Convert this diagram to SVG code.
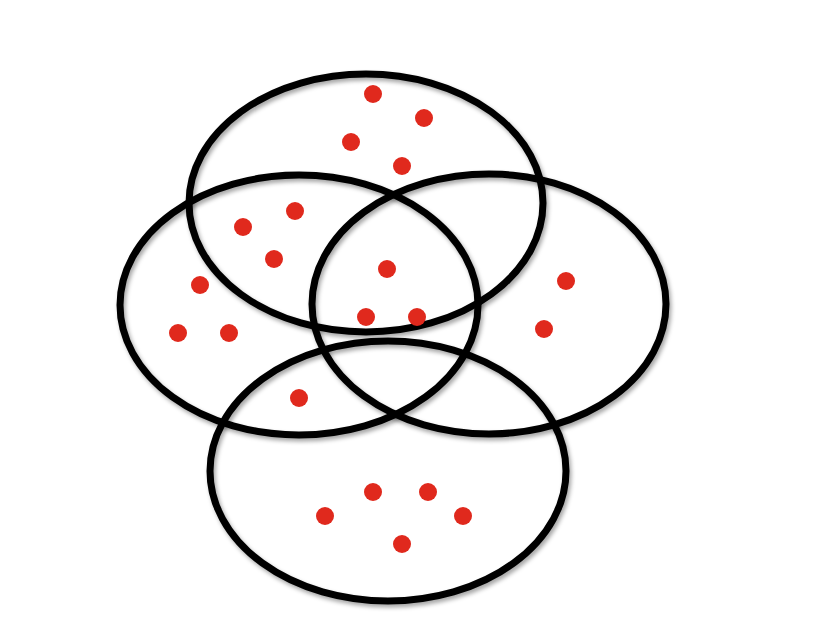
<svg xmlns="http://www.w3.org/2000/svg" width="826" height="636" viewBox="0 0 826 636">
<defs>
<filter id="sh" x="-10%" y="-10%" width="120%" height="120%">
<feDropShadow dx="2" dy="3" stdDeviation="2" flood-color="#000" flood-opacity="0.35"/>
</filter>
<style>
.set{fill:none;stroke:#000;stroke-width:7;filter:url(#sh)}
.dot{fill:#e0291d}
</style>
</defs>
<rect width="826" height="636" fill="#fff"/>
<g id="sets">
<g id="set-top"><ellipse class="set" cx="366" cy="203" rx="177" ry="129"/></g>
<g id="set-left"><ellipse class="set" cx="299" cy="305" rx="179" ry="130"/></g>
<g id="set-right"><ellipse class="set" cx="489" cy="304" rx="177" ry="130"/></g>
<g id="set-bottom"><ellipse class="set" cx="388" cy="471" rx="178" ry="130"/></g>
</g>
<g id="dots" transform="translate(0,1)">
<circle class="dot" cx="373" cy="93" r="9"/>
<circle class="dot" cx="424" cy="117" r="9"/>
<circle class="dot" cx="351" cy="141" r="9"/>
<circle class="dot" cx="402" cy="165" r="9"/>
<circle class="dot" cx="243" cy="226" r="9"/>
<circle class="dot" cx="295" cy="210" r="9"/>
<circle class="dot" cx="274" cy="258" r="9"/>
<circle class="dot" cx="200" cy="284" r="9"/>
<circle class="dot" cx="178" cy="332" r="9"/>
<circle class="dot" cx="229" cy="332" r="9"/>
<circle class="dot" cx="387" cy="268" r="9"/>
<circle class="dot" cx="366" cy="316" r="9"/>
<circle class="dot" cx="417" cy="316" r="9"/>
<circle class="dot" cx="566" cy="280" r="9"/>
<circle class="dot" cx="544" cy="328" r="9"/>
<circle class="dot" cx="299" cy="397" r="9"/>
<circle class="dot" cx="373" cy="491" r="9"/>
<circle class="dot" cx="428" cy="491" r="9"/>
<circle class="dot" cx="325" cy="515" r="9"/>
<circle class="dot" cx="463" cy="515" r="9"/>
<circle class="dot" cx="402" cy="543" r="9"/>
</g>
</svg>
